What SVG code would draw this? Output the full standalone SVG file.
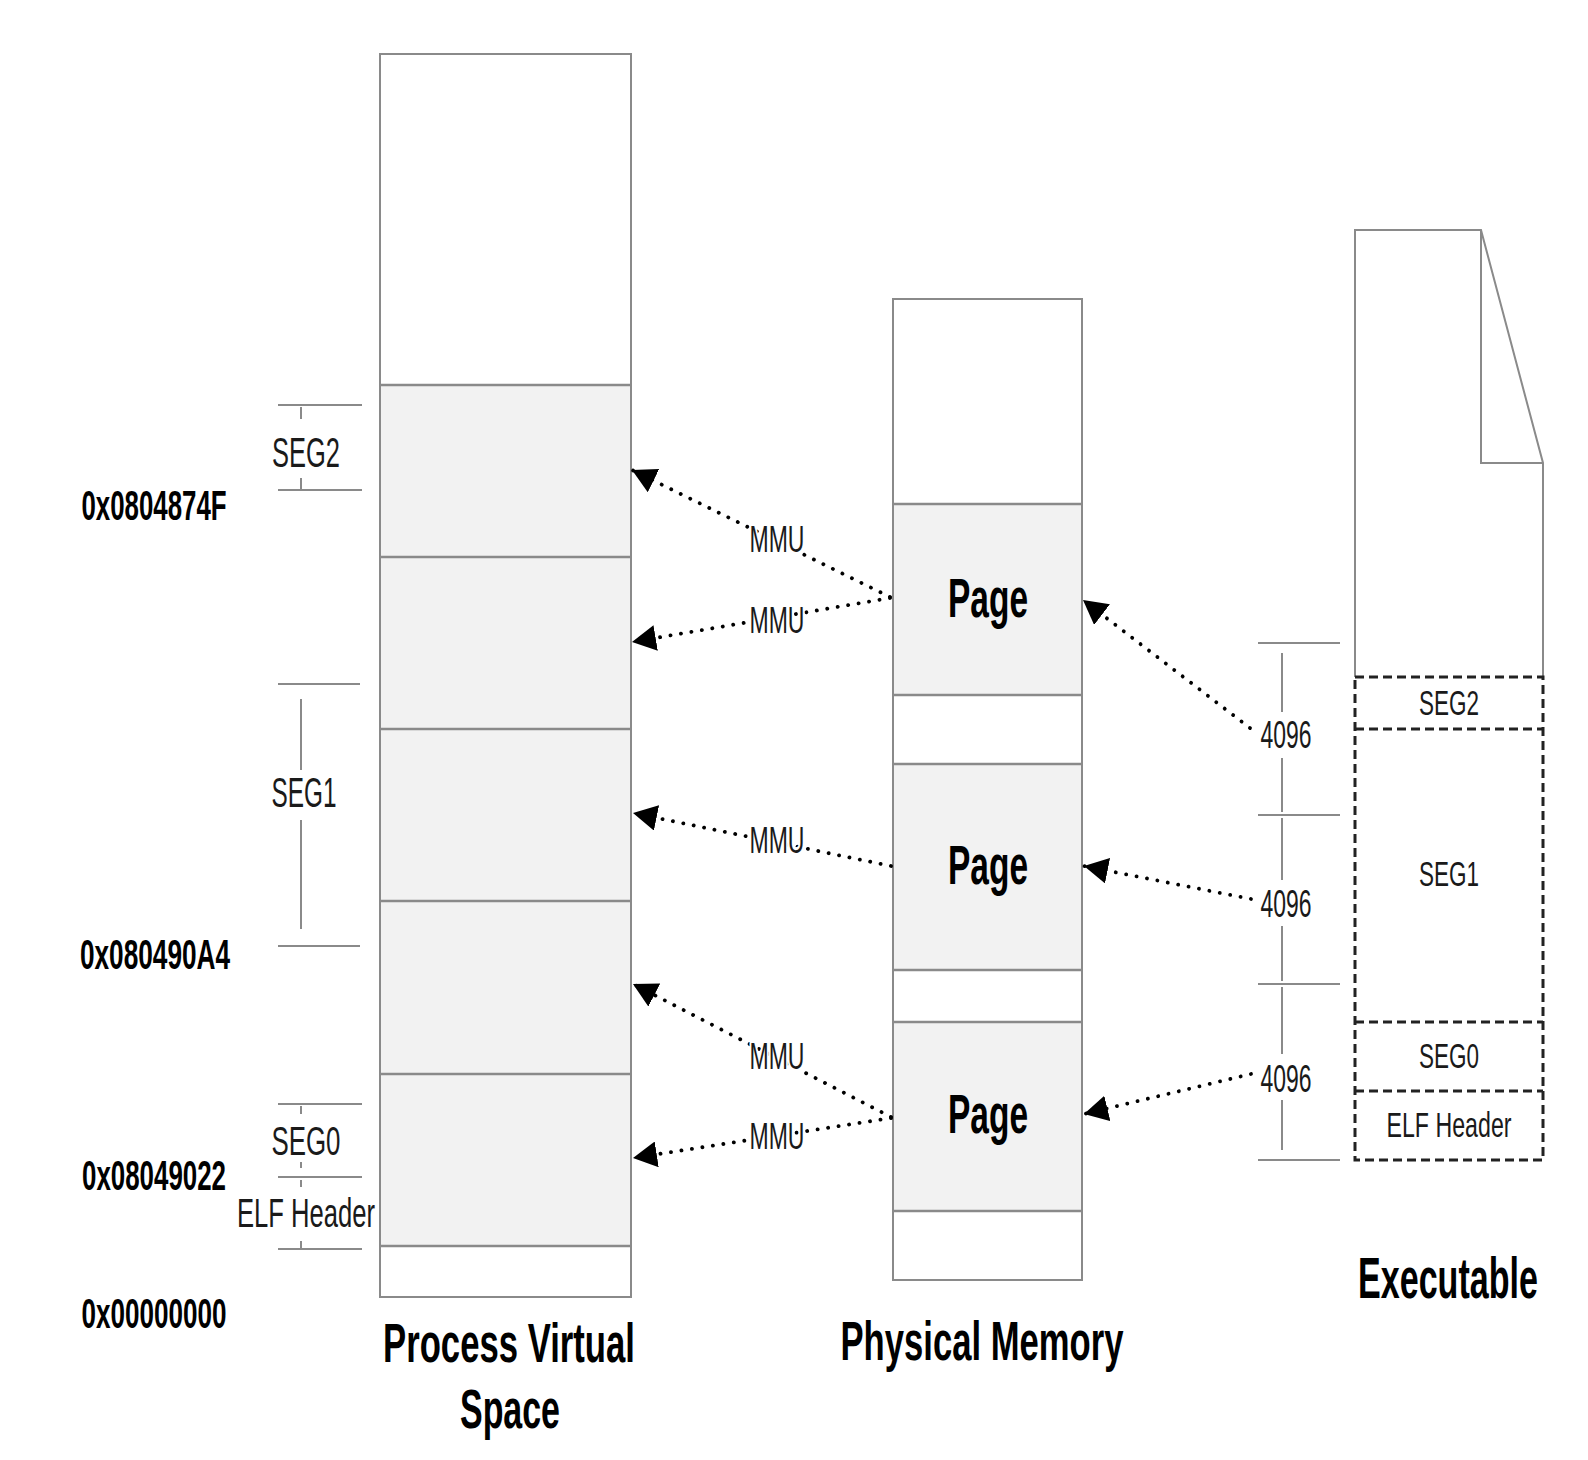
<svg xmlns="http://www.w3.org/2000/svg" width="1588" height="1460" viewBox="0 0 1588 1460">
<defs>
<style>
.box{fill:#ffffff;stroke:#8a8a8a;stroke-width:2}
.seg{fill:#f2f2f2;stroke:none}
.div{stroke:#8a8a8a;stroke-width:2.5;fill:none}
.dim{stroke:#8a8a8a;stroke-width:2;fill:none}
.dash{stroke:#222;stroke-width:3;stroke-dasharray:9 5;fill:none}
.t{font-family:"Liberation Sans",Arial,sans-serif;fill:#1a1a1a;text-anchor:middle}
.b{font-weight:bold;fill:#000}
.conn{stroke:#000;stroke-width:3.8;stroke-linecap:round;stroke-dasharray:0.1 10.5;fill:none;marker-end:url(#ah)}
.halo{stroke:#fff;stroke-width:6;paint-order:stroke;stroke-linejoin:round}
</style>
<marker id="ah" viewBox="0 0 24 26" refX="24" refY="13" markerWidth="24" markerHeight="26" orient="auto" markerUnits="userSpaceOnUse">
<path d="M0,0 L24,13 L0,26 z" fill="#000"/>
</marker>
</defs>
<rect width="1588" height="1460" fill="#fff"/>

<g id="process-virtual-space">
<rect class="box" x="380" y="54" width="251" height="1243"/>
<rect class="seg" x="381" y="385" width="249" height="861"/>
<line class="div" x1="380" y1="385" x2="631" y2="385"/>
<line class="div" x1="380" y1="557" x2="631" y2="557"/>
<line class="div" x1="380" y1="729" x2="631" y2="729"/>
<line class="div" x1="380" y1="901" x2="631" y2="901"/>
<line class="div" x1="380" y1="1074" x2="631" y2="1074"/>
<line class="div" x1="380" y1="1246" x2="631" y2="1246"/>
<text class="t b" x="509" y="1362" font-size="56" textLength="252" lengthAdjust="spacingAndGlyphs">Process Virtual</text>
<text class="t b" x="510" y="1428" font-size="56" textLength="100" lengthAdjust="spacingAndGlyphs">Space</text>
</g>

<g id="left-labels">
<line class="dim" x1="278" y1="405" x2="362" y2="405"/>
<line class="dim" x1="278" y1="490" x2="362" y2="490"/>
<line class="dim" x1="301" y1="407" x2="301" y2="419"/>
<line class="dim" x1="301" y1="478" x2="301" y2="489"/>
<text class="t" x="306" y="467" font-size="42" textLength="68" lengthAdjust="spacingAndGlyphs">SEG2</text>
<line class="dim" x1="278" y1="684" x2="360" y2="684"/>
<line class="dim" x1="278" y1="946" x2="360" y2="946"/>
<line class="dim" x1="301" y1="699" x2="301" y2="770"/>
<line class="dim" x1="301" y1="820" x2="301" y2="929"/>
<text class="t" x="304" y="807" font-size="42" textLength="65" lengthAdjust="spacingAndGlyphs">SEG1</text>
<line class="dim" x1="278" y1="1104" x2="362" y2="1104"/>
<line class="dim" x1="278" y1="1177" x2="362" y2="1177"/>
<line class="dim" x1="278" y1="1249" x2="362" y2="1249"/>
<line class="dim" x1="301" y1="1106" x2="301" y2="1114"/>
<line class="dim" x1="301" y1="1162" x2="301" y2="1168"/>
<line class="dim" x1="301" y1="1180" x2="301" y2="1187"/>
<line class="dim" x1="301" y1="1241" x2="301" y2="1248"/>
<text class="t" transform="translate(306,1155) scale(0.647,1)" x="0" y="0" font-size="40">SEG0</text>
<text class="t" transform="translate(306,1227) scale(0.64,1)" x="0" y="0" font-size="40">ELF Header</text>
<text class="t b" transform="translate(154,520) scale(0.615,1)" x="0" y="0" font-size="42">0x0804874F</text>
<text class="t b" transform="translate(155,969) scale(0.624,1)" x="0" y="0" font-size="42">0x080490A4</text>
<text class="t b" transform="translate(154,1190) scale(0.617,1)" x="0" y="0" font-size="42">0x08049022</text>
<text class="t b" transform="translate(154,1328) scale(0.621,1)" x="0" y="0" font-size="42">0x00000000</text>
</g>

<g id="physical-memory">
<rect class="box" x="893" y="299" width="189" height="981"/>
<rect class="seg" x="894" y="504" width="187" height="191"/>
<rect class="seg" x="894" y="764" width="187" height="206"/>
<rect class="seg" x="894" y="1022" width="187" height="189"/>
<line class="div" x1="893" y1="504" x2="1082" y2="504"/>
<line class="div" x1="893" y1="695" x2="1082" y2="695"/>
<line class="div" x1="893" y1="764" x2="1082" y2="764"/>
<line class="div" x1="893" y1="970" x2="1082" y2="970"/>
<line class="div" x1="893" y1="1022" x2="1082" y2="1022"/>
<line class="div" x1="893" y1="1211" x2="1082" y2="1211"/>
<text class="t b" x="988" y="617" font-size="56" textLength="80" lengthAdjust="spacingAndGlyphs">Page</text>
<text class="t b" x="988" y="884" font-size="56" textLength="80" lengthAdjust="spacingAndGlyphs">Page</text>
<text class="t b" x="988" y="1133" font-size="56" textLength="80" lengthAdjust="spacingAndGlyphs">Page</text>
<text class="t b" x="982" y="1360" font-size="56" textLength="283" lengthAdjust="spacingAndGlyphs">Physical Memory</text>
</g>

<g id="executable">
<path class="dim" d="M1355,677 L1355,230 L1481,230 L1543,463 L1543,677"/>
<path class="dim" d="M1481,230 L1481,463 L1543,463"/>
<rect class="dash" x="1355" y="677" width="188" height="483"/>
<line class="dash" x1="1355" y1="729" x2="1543" y2="729"/>
<line class="dash" x1="1355" y1="1022" x2="1543" y2="1022"/>
<line class="dash" x1="1355" y1="1091" x2="1543" y2="1091"/>
<text class="t" x="1449" y="715" font-size="35" textLength="60" lengthAdjust="spacingAndGlyphs">SEG2</text>
<text class="t" x="1449" y="886" font-size="35" textLength="60" lengthAdjust="spacingAndGlyphs">SEG1</text>
<text class="t" x="1449" y="1068" font-size="35" textLength="60" lengthAdjust="spacingAndGlyphs">SEG0</text>
<text class="t" x="1449" y="1137" font-size="35" textLength="125" lengthAdjust="spacingAndGlyphs">ELF Header</text>
<text class="t b" transform="translate(1448,1298) scale(0.598,1)" x="0" y="0" font-size="57">Executable</text>
</g>

<g id="page-dimensions">
<line class="dim" x1="1258" y1="643" x2="1340" y2="643"/>
<line class="dim" x1="1258" y1="815" x2="1340" y2="815"/>
<line class="dim" x1="1258" y1="984" x2="1340" y2="984"/>
<line class="dim" x1="1258" y1="1160" x2="1340" y2="1160"/>
<line class="dim" x1="1282" y1="653" x2="1282" y2="712"/>
<line class="dim" x1="1282" y1="758" x2="1282" y2="812"/>
<line class="dim" x1="1282" y1="818" x2="1282" y2="880"/>
<line class="dim" x1="1282" y1="926" x2="1282" y2="981"/>
<line class="dim" x1="1282" y1="987" x2="1282" y2="1054"/>
<line class="dim" x1="1282" y1="1100" x2="1282" y2="1150"/>
<text class="t" x="1286" y="748" font-size="39" textLength="51" lengthAdjust="spacingAndGlyphs">4096</text>
<text class="t" x="1286" y="917" font-size="39" textLength="51" lengthAdjust="spacingAndGlyphs">4096</text>
<text class="t" x="1286" y="1092" font-size="39" textLength="51" lengthAdjust="spacingAndGlyphs">4096</text>
</g>

<g id="connectors">
<line class="conn" x1="890" y1="597" x2="632" y2="470"/>
<line class="conn" x1="890" y1="598" x2="632" y2="642"/>
<line class="conn" x1="891" y1="866" x2="633" y2="813"/>
<line class="conn" x1="891" y1="1117" x2="633" y2="984"/>
<line class="conn" x1="891" y1="1118" x2="633" y2="1158"/>
<line class="conn" x1="1250" y1="728" x2="1083" y2="600"/>
<line class="conn" x1="1251" y1="899" x2="1084" y2="866"/>
<line class="conn" x1="1251" y1="1074" x2="1084" y2="1114"/>
<text class="t halo" x="777" y="552" font-size="37" textLength="55" lengthAdjust="spacingAndGlyphs">MMU</text>
<text class="t halo" x="777" y="633" font-size="37" textLength="55" lengthAdjust="spacingAndGlyphs">MMU</text>
<text class="t halo" x="777" y="853" font-size="37" textLength="55" lengthAdjust="spacingAndGlyphs">MMU</text>
<text class="t halo" x="777" y="1069" font-size="37" textLength="55" lengthAdjust="spacingAndGlyphs">MMU</text>
<text class="t halo" x="777" y="1149" font-size="37" textLength="55" lengthAdjust="spacingAndGlyphs">MMU</text>
</g>
</svg>
